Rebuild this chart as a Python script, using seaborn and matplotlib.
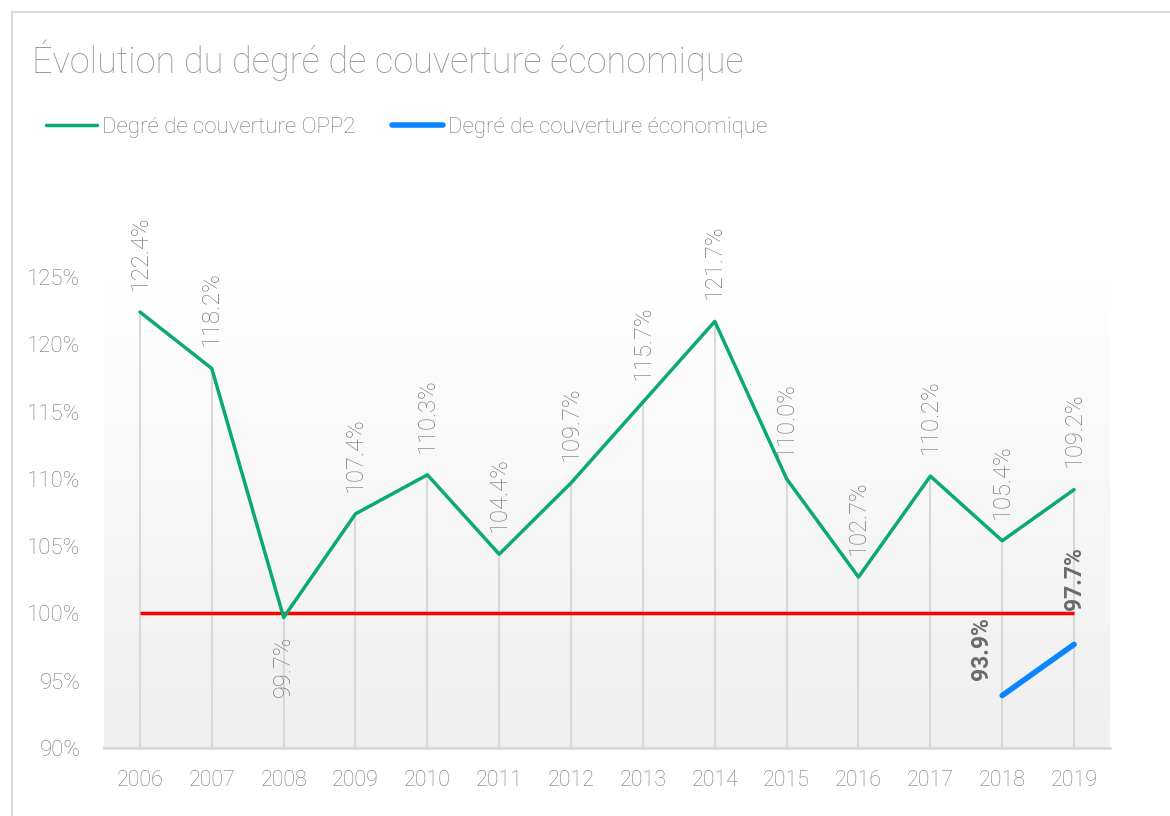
import matplotlib.pyplot as plt
import matplotlib.lines as mlines
import seaborn as sns
import numpy as np
import pandas as pd

# Data
annees = [2006, 2007, 2008, 2009, 2010, 2011, 2012, 2013, 2014, 2015, 2016, 2017, 2018, 2019]
couverture_opp2 = [122.4, 118.2, 99.7, 107.4, 110.3, 104.4, 109.7, 115.7, 121.7, 110.0, 102.7, 110.2, 105.4, 109.2]
annees_eco = [2018, 2019]
couverture_eco = [93.9, 97.7]
seuil = 100
y_ticks = [90, 95, 100, 105, 110, 115, 120, 125]

titre = "Évolution du degré de couverture économique"
nom_opp2 = "Degré de couverture OPP2"
nom_eco = "Degré de couverture économique"

df_opp2 = pd.DataFrame({"annee": annees, "valeur": couverture_opp2})
df_eco = pd.DataFrame({"annee": annees_eco, "valeur": couverture_eco})

sns.set_style("white")
plt.rcParams["font.family"] = ["Roboto", "DejaVu Sans"]
plt.rcParams["font.weight"] = "light"

VERT = "#0BAA72"
BLEU = "#0A84FF"
ROUGE = "#FF0000"
GRIS_TXT = "#777777"
GRIS_LIGNE = "#D9D9D9"

fig = plt.figure(figsize=(11.7, 8.16), dpi=100)
ax = fig.add_axes([104 / 1170, 1 - 748 / 816, 1006 / 1170, 471 / 816])

# chart frame (top and left border)
fig.add_artist(mlines.Line2D([12 / 1170, 12 / 1170], [0, 1 - 12 / 816], color="#D9D9D9", lw=1.5))
fig.add_artist(mlines.Line2D([12 / 1170, 1], [1 - 12 / 816, 1 - 12 / 816], color="#D9D9D9", lw=1.5))

# gradient background of the plot area
grad = np.linspace(1.0, 0.0, 256).reshape(-1, 1)
ax.imshow(grad, extent=[0, 1, 0, 1], transform=ax.transAxes, aspect="auto",
          cmap=sns.blend_palette(["#EFEFEF", "#FFFFFF"], as_cmap=True), zorder=0)

# drop lines
ax.vlines(annees, 90, couverture_opp2, color=GRIS_LIGNE, lw=1.5, zorder=1)
ax.hlines(seuil, annees[0], annees[-1], color=ROUGE, lw=2.5, zorder=2)

sns.lineplot(data=df_opp2, x="annee", y="valeur", ax=ax, color=VERT, lw=2.5, label=nom_opp2, zorder=3)
sns.lineplot(data=df_eco, x="annee", y="valeur", ax=ax, color=BLEU, lw=4, label=nom_eco, zorder=4,
             solid_capstyle="round")

# data labels
for x, y in zip(annees, couverture_opp2):
    if y < seuil:
        ax.annotate(f"{y:.1f}%", (x, y), xytext=(0, -13), textcoords="offset points",
                    rotation=90, ha="center", va="top", fontsize=17, color=GRIS_TXT)
    else:
        ax.annotate(f"{y:.1f}%", (x, y), xytext=(0, 16), textcoords="offset points",
                    rotation=90, ha="center", va="bottom", fontsize=17, color=GRIS_TXT)

offsets_eco = [(-15, 11), (0, 25)]
for (x, y), off in zip(zip(annees_eco, couverture_eco), offsets_eco):
    ax.annotate(f"{y:.1f}%", (x, y), xytext=off, textcoords="offset points",
                rotation=90, ha="center", va="bottom", fontsize=16.5, color="#6A6A6A",
                fontweight="bold")

ax.set_xlim(annees[0] - 0.5, annees[-1] + 0.5)
ax.set_ylim(y_ticks[0], y_ticks[-1])
ax.set_xticks(annees)
ax.set_xticklabels([str(a) for a in annees])
ax.set_yticks(y_ticks)
ax.set_yticklabels([f"{t}%" for t in y_ticks])
ax.tick_params(axis="both", length=0, labelcolor=GRIS_TXT)
ax.tick_params(axis="y", pad=17, labelsize=16)
ax.tick_params(axis="x", pad=16, labelsize=15.5)
ax.set_xlabel("")
ax.set_ylabel("")
for s in ["top", "right", "left"]:
    ax.spines[s].set_visible(False)
ax.spines["bottom"].set_color(GRIS_LIGNE)
ax.spines["bottom"].set_linewidth(2)
ax.set_facecolor("white")

fig.text(32 / 1170, 1 - 60 / 816, titre, fontsize=26, color="#9A9A9A", va="center", ha="left")

leg = ax.legend(loc="center left", bbox_to_anchor=(46 / 1170, 1 - 127 / 816),
                bbox_transform=fig.transFigure, ncol=2, frameon=False, fontsize=16,
                handlelength=2.3, handletextpad=0.23, columnspacing=1.65, borderpad=0,
                borderaxespad=0)
for t in leg.get_texts():
    t.set_color(GRIS_TXT)

fig.savefig("out.png", dpi=100)
plt.close(fig)
